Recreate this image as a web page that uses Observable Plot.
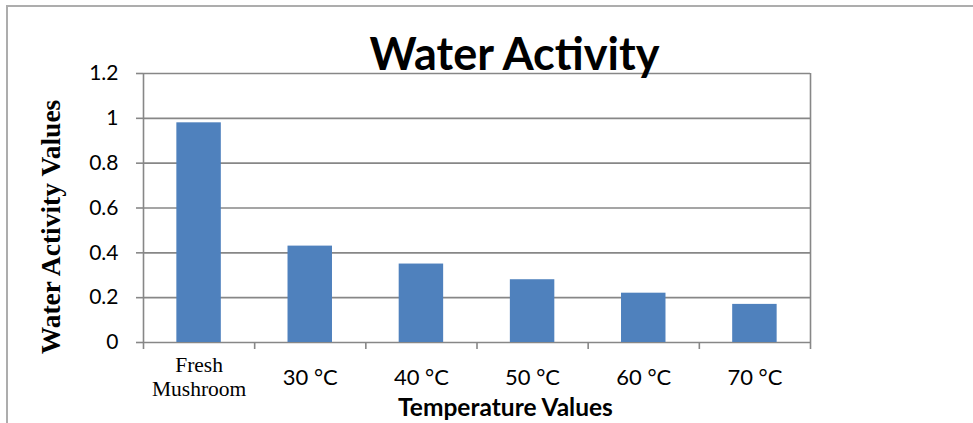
<!DOCTYPE html>
<html><head><meta charset="utf-8">
<script src="https://cdn.jsdelivr.net/npm/d3@7"></script>
<script src="https://cdn.jsdelivr.net/npm/@observablehq/plot@0.6"></script>
<style>
body{margin:0;background:#fff;}
#wrap{position:relative;width:973px;height:423px;overflow:hidden;background:#fff;}
#wrap svg{position:absolute;left:0;top:0;}
#border{position:absolute;left:6px;top:5px;right:-4px;bottom:-4px;border-top:2px solid #adadad;border-left:2px solid #adadad;pointer-events:none;}
</style></head><body>
<div id="wrap"><div id="border"></div></div>
<script>
const categories = ["Fresh\nMushroom", "30 °C", "40 °C", "50 °C", "60 °C", "70 °C"];
const values = [0.98, 0.43, 0.35, 0.28, 0.22, 0.17];
const yTicks = [0, 0.2, 0.4, 0.6, 0.8, 1, 1.2];
const title = "Water Activity";
const xTitle = "Temperature Values";
const yTitle = "Water Activity Values";

const data = categories.map((c, i) => ({category: c, index: i, value: values[i]}));
const boundaries = d3.range(categories.length + 1).map(i => i - 0.5);
const grid = "#878787";
const sans = "Lato, 'Open Sans', sans-serif";
const serif = "'Liberation Serif', 'DejaVu Serif', serif";

const chart = Plot.plot({
  width: 973, height: 423,
  marginLeft: 143, marginRight: 163, marginTop: 73, marginBottom: 81,
  style: {background: "transparent", overflow: "visible"},
  x: {domain: [-0.5, categories.length - 0.5]},
  y: {domain: [0, 1.2]},
  marks: [
    Plot.ruleY(yTicks, {stroke: grid, strokeWidth: 1.6}),
    Plot.axisY({ticks: yTicks, tickSize: 7, tickPadding: 18, stroke: grid, strokeWidth: 1.6, strokeOpacity: 1,
      fill: "#000", fontSize: 21, fontFamily: sans, tickFormat: d => String(+d.toFixed(1)), label: null}),
    Plot.axisX({ticks: boundaries, tickSize: 7, tickFormat: () => "", stroke: grid, strokeWidth: 1.6, strokeOpacity: 1, label: null}),
    Plot.ruleX([-0.5, categories.length - 0.5], {y1: 0, y2: 1.2, stroke: grid, strokeWidth: 1.6}),
    Plot.rectY(data, {x1: d => d.index - 0.2, x2: d => d.index + 0.2, y: "value", fill: "#4f81bd"}),
    Plot.text(data.filter(d => d.index === 0), {x: "index", y: 0, text: "category", dy: 53, lineAnchor: "bottom",
      lineHeight: 1.1, fontFamily: serif, fontSize: 21.5, fill: "#000"}),
    Plot.text(data.filter(d => d.index > 0), {x: "index", y: 0, text: "category", dy: 42, lineAnchor: "bottom",
      fontFamily: sans, fontSize: 22, fill: "#000"}),
    Plot.text([title], {frameAnchor: "top-left", dx: 371, dy: -4, lineAnchor: "bottom", textAnchor: "middle",
      fontFamily: sans, fontWeight: "bold", fontSize: 45, fill: "#000"}),
    Plot.text([xTitle], {frameAnchor: "bottom-left", dx: 362, dy: 73, lineAnchor: "bottom", textAnchor: "middle",
      fontFamily: sans, fontWeight: "bold", fontSize: 24.5, fill: "#000"}),
    Plot.text([yTitle], {frameAnchor: "left", dx: -92, dy: 19, rotate: -90, textAnchor: "middle", lineAnchor: "middle",
      fontFamily: serif, fontWeight: "bold", fontSize: 27.5, fill: "#000"})
  ]
});
document.getElementById("wrap").prepend(chart);
</script>
</body></html>
